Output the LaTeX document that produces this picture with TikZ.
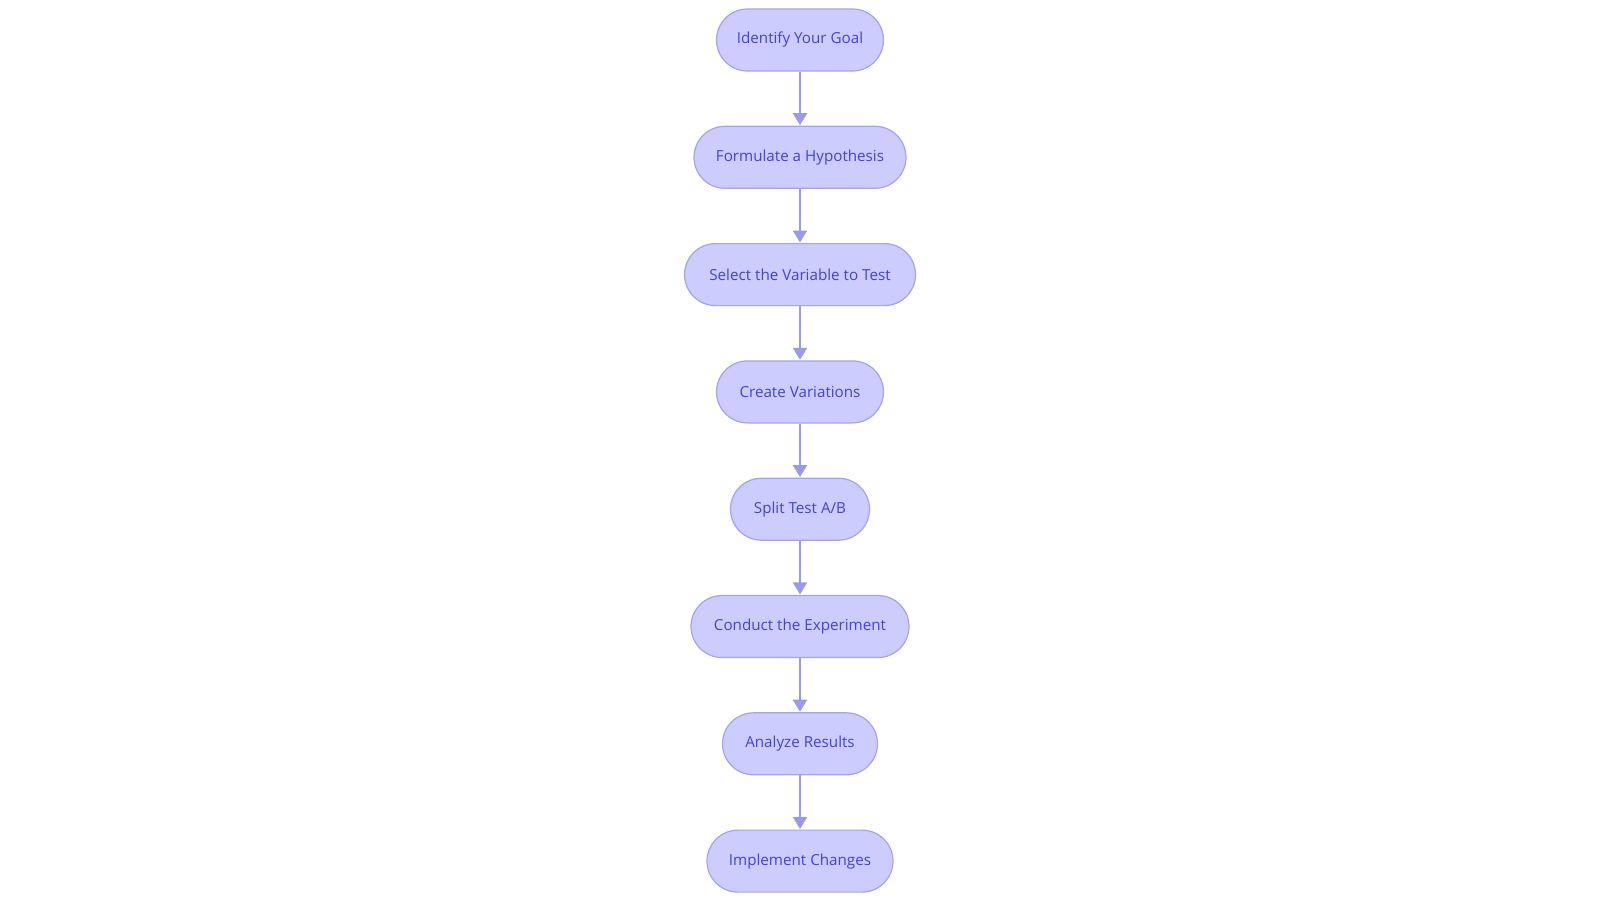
\documentclass[tikz,border=0pt]{standalone}
\usepackage{fontspec}
\setmainfont{Open Sans}
\usetikzlibrary{arrows.meta}
\definecolor{nodefill}{HTML}{CCCCFF}
\definecolor{nodeline}{HTML}{A3A3F2}
\definecolor{nodetext}{HTML}{4343D6}
\definecolor{arrowcol}{HTML}{9999EE}
\begin{document}
\begin{tikzpicture}[x=1pt,y=-1pt,
  flowbox/.style={draw=nodeline, line width=1.2pt, fill=nodefill, rounded corners=31pt,
    minimum height=62pt, inner sep=0pt, text=nodetext, font=\fontsize{15.2}{18}\selectfont},
  flowarrow/.style={draw=arrowcol, line width=2pt, -{Triangle[length=12pt,width=14pt]}, shorten >=0.5pt}]
\useasboundingbox (0,0) rectangle (1600,903);
\fill[white] (0,0) rectangle (1600,903);
\node[flowbox, minimum width=167pt] (n1) at (800,40) {Identify Your Goal};
\node[flowbox, minimum width=212pt] (n2) at (800,157.3) {Formulate a Hypothesis};
\node[flowbox, minimum width=231pt] (n3) at (800,274.6) {Select the Variable to Test};
\node[flowbox, minimum width=167pt] (n4) at (800,391.9) {Create Variations};
\node[flowbox, minimum width=139pt] (n5) at (800,509.2) {Split Test A/B};
\node[flowbox, minimum width=218pt] (n6) at (800,626.5) {Conduct the Experiment};
\node[flowbox, minimum width=155pt] (n7) at (800,743.8) {Analyze Results};
\node[flowbox, minimum width=186pt] (n8) at (800,861.1) {Implement Changes};
\draw[flowarrow] (n1) -- (n2);
\draw[flowarrow] (n2) -- (n3);
\draw[flowarrow] (n3) -- (n4);
\draw[flowarrow] (n4) -- (n5);
\draw[flowarrow] (n5) -- (n6);
\draw[flowarrow] (n6) -- (n7);
\draw[flowarrow] (n7) -- (n8);
\end{tikzpicture}
\end{document}
